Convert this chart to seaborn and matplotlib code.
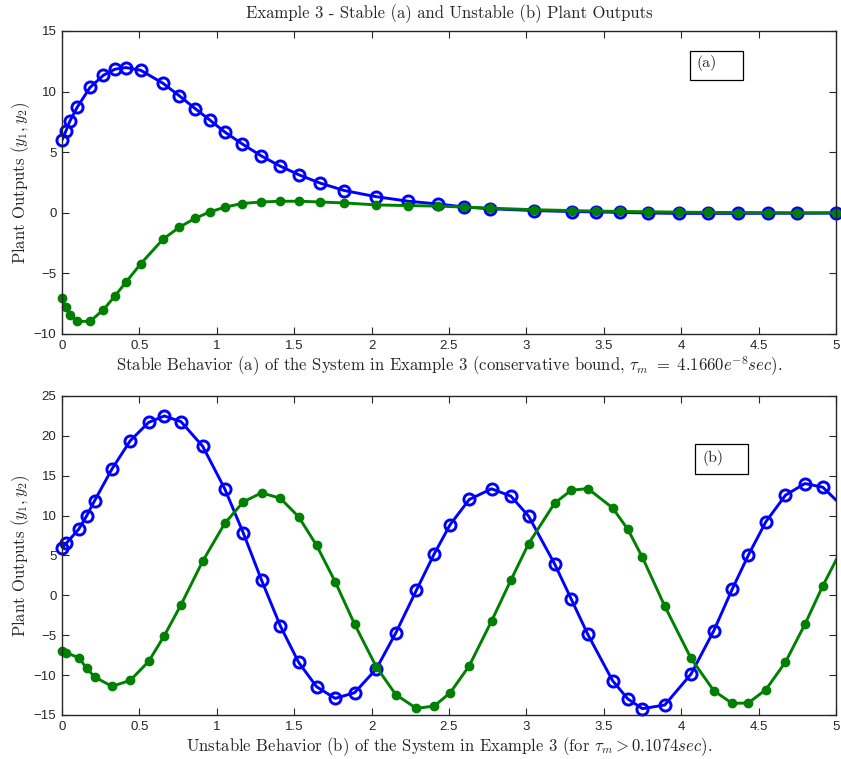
import matplotlib
matplotlib.use("Agg")
import matplotlib.pyplot as plt
from matplotlib.patches import Rectangle
import seaborn as sns

# Stable case (a): solver time steps and the two plant outputs
t_a = [0, 0.026, 0.052, 0.099, 0.181, 0.268, 0.341, 0.413, 0.508, 0.652,
       0.758, 0.862, 0.955, 1.052, 1.162, 1.285, 1.408, 1.533, 1.665, 1.825,
       2.028, 2.238, 2.432, 2.596, 2.767, 3.052, 3.298, 3.449, 3.607, 3.789,
       3.983, 4.175, 4.370, 4.562, 4.749, 5.0]
y1_a = [6.0, 6.77, 7.59, 8.72, 10.34, 11.35, 11.84, 11.98, 11.76, 10.69,
        9.65, 8.58, 7.65, 6.66, 5.70, 4.71, 3.86, 3.12, 2.46, 1.83,
        1.33, 0.95, 0.72, 0.48, 0.33, 0.18, 0.10, 0.07, 0.03, -0.02,
        -0.05, -0.05, -0.05, -0.04, -0.04, -0.03]
y2_a = [-7.04, -7.78, -8.41, -8.96, -8.96, -8.00, -6.88, -5.73, -4.22, -2.19,
        -1.19, -0.45, 0.07, 0.46, 0.76, 0.89, 0.95, 0.95, 0.89, 0.81,
        0.65, 0.59, 0.55, 0.47, 0.38, 0.25, 0.18, 0.14, 0.11, 0.08,
        0.05, 0.03, 0.02, 0.01, 0.0, 0.0]

# Unstable case (b)
t_b = [0, 0.028, 0.108, 0.159, 0.211, 0.323, 0.441, 0.560, 0.661, 0.769,
       0.909, 1.051, 1.171, 1.289, 1.410, 1.529, 1.645, 1.765, 1.890, 2.030,
       2.157, 2.290, 2.405, 2.508, 2.631, 2.775, 2.900, 3.014, 3.182, 3.290,
       3.397, 3.557, 3.656, 3.750, 3.894, 4.064, 4.211, 4.329, 4.433, 4.547,
       4.674, 4.799, 4.915, 5.04]
y1_b = [5.96, 6.54, 8.29, 9.96, 11.88, 15.85, 19.39, 21.69, 22.49, 21.78,
        18.69, 13.38, 7.84, 1.91, -3.81, -8.41, -11.46, -12.92, -12.21, -9.24,
        -4.69, 0.66, 5.21, 8.88, 12.02, 13.36, 12.44, 9.94, 3.96, -0.47,
        -4.90, -10.70, -13.00, -14.21, -13.75, -9.86, -4.43, 0.74, 5.00, 9.22,
        12.56, 14.02, 13.56, 11.2]
y2_b = [-6.99, -7.20, -7.82, -9.12, -10.24, -11.41, -10.66, -8.28, -5.06, -1.18,
        4.29, 9.01, 11.72, 12.85, 12.18, 9.85, 6.26, 1.70, -3.60, -8.95,
        -12.46, -14.17, -13.88, -12.21, -8.83, -3.23, 1.91, 6.46, 11.55, 13.18,
        13.39, 10.97, 8.26, 4.75, -1.35, -7.91, -11.96, -13.54, -13.50, -11.83,
        -8.36, -3.65, 1.19, 5.9]

sns.set_style("ticks")
plt.rcParams["font.family"] = ["Liberation Sans", "DejaVu Sans"]
plt.rcParams["mathtext.fontset"] = "cm"
plt.rcParams["xtick.direction"] = "in"
plt.rcParams["ytick.direction"] = "in"
plt.rcParams["axes.linewidth"] = 1.0

BLUE = (0, 0, 1)
GREEN = (0, 0.5, 0)
SERIF = "cmr10"
FS = 12

fig = plt.figure(figsize=(8.41, 7.59), dpi=100)
ax1 = fig.add_axes([0.0737, 0.560, 0.9203, 0.3992])
ax2 = fig.add_axes([0.0737, 0.058, 0.9203, 0.4203])


def draw_panel(ax, t, y1, y2):
    # lines are clipped at the axes, markers inside the range are not (MATLAB style)
    inside = [i for i, v in enumerate(t) if v <= 5]
    ti = [t[i] for i in inside]
    for y, ms, face in [(y1, 8, "none"), (y2, 6, None)]:
        col = BLUE if y is y1 else GREEN
        sns.lineplot(x=t, y=y, ax=ax, color=col, lw=2.1, sort=False)
        sns.lineplot(x=ti, y=[y[i] for i in inside], ax=ax, color=col, lw=0,
                     marker="o", markersize=ms,
                     markerfacecolor=face if face else col, markeredgecolor=col,
                     markeredgewidth=2.1 if face else 1, sort=False, clip_on=False)
    ax.set_xlim(0, 5)
    ax.set_xticks([0, 0.5, 1, 1.5, 2, 2.5, 3, 3.5, 4, 4.5, 5])
    ax.set_xticklabels(["0", "0.5", "1", "1.5", "2", "2.5", "3", "3.5", "4", "4.5", "5"])
    ax.tick_params(top=True, right=True, labelsize=9.5, length=5, width=0.8, pad=4)
    for s in ax.spines.values():
        s.set_visible(True)
    ax.set_ylabel("Plant Outputs $(y_1, y_2)$", family=SERIF, fontsize=FS, labelpad=1)


draw_panel(ax1, t_a, y1_a, y2_a)
ax1.set_ylim(-10, 15)
ax1.set_yticks([-10, -5, 0, 5, 10, 15])
ax1.set_title("Example 3 - Stable (a) and Unstable (b) Plant Outputs",
              family=SERIF, fontsize=FS, pad=9)
ax1.set_xlabel("Stable Behavior (a) of the System in Example 3 (conservative bound, "
               r"$\tau_m\ =\ 4.1660e^{-8}sec$).", family=SERIF, fontsize=FS, labelpad=2)

draw_panel(ax2, t_b, y1_b, y2_b)
ax2.set_ylim(-15, 25)
ax2.set_yticks([-15, -10, -5, 0, 5, 10, 15, 20, 25])
ax2.set_xlabel(r"Unstable Behavior (b) of the System in Example 3 (for $\tau_m > 0.1074sec$).",
               family=SERIF, fontsize=FS, labelpad=2)

# annotation boxes
ax1.add_patch(Rectangle((0.811, 0.838), 0.0685, 0.096, transform=ax1.transAxes,
                        facecolor="white", edgecolor="black", lw=0.9, zorder=5))
ax1.text(0.820, 0.893, "(a)", transform=ax1.transAxes, family=SERIF,
         fontsize=11.5, va="center", ha="left", zorder=6)
ax2.add_patch(Rectangle((0.818, 0.756), 0.069, 0.092, transform=ax2.transAxes,
                        facecolor="white", edgecolor="black", lw=0.9, zorder=5))
ax2.text(0.827, 0.806, "(b)", transform=ax2.transAxes, family=SERIF,
         fontsize=11.5, va="center", ha="left", zorder=6)

fig.savefig("out.png", dpi=100)
